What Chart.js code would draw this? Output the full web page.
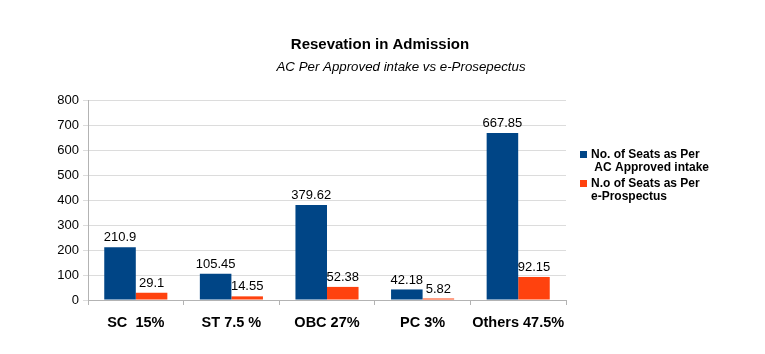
<!DOCTYPE html>
<html>
<head>
<meta charset="utf-8">
<script src="https://cdn.jsdelivr.net/npm/chart.js@4/dist/chart.umd.min.js"></script>
<style>
  html, body { margin: 0; padding: 0; background: #fff; }
  #wrap { width: 765px; height: 354px; }
</style>
</head>
<body>
<div id="wrap"><canvas id="myBarChartSeats" width="765" height="354"></canvas></div>
<script>
// Daten
const categories = ["SC  15%", "ST 7.5 %", "OBC 27%", "PC 3%", "Others 47.5%"];
const seatsApproved = [210.9, 105.45, 379.62, 42.18, 667.85];
const seatsProspectus = [29.1, 14.55, 52.38, 5.82, 92.15];
const seriesNames = [["No. of Seats as Per", " AC Approved intake"], ["N.o of Seats as Per", "e-Prospectus"]];
const yTicks = [0, 100, 200, 300, 400, 500, 600, 700, 800];
const colors = ['#004586', '#ff420e'];

// Titel, Legende und Werte direkt auf die Canvas zeichnen
const textPlugin = {
    id: 'textPlugin',
    afterDatasetsDraw(chart) {
        const ctx = chart.ctx;
        ctx.save();
        ctx.fillStyle = '#000';
        ctx.textAlign = 'center';
        ctx.textBaseline = 'middle';
        ctx.font = 'bold 15px "Liberation Sans", Arial, sans-serif';
        ctx.fillText('Resevation in Admission', 380, 45);
        ctx.font = 'italic 13.3px "Liberation Sans", Arial, sans-serif';
        ctx.fillText('AC Per Approved intake vs e-Prosepectus', 401, 67);

        // Werte über den Balken
        ctx.font = '13px "Liberation Sans", Arial, sans-serif';
        ctx.textBaseline = 'bottom';
        chart.data.datasets.forEach((ds, i) => {
            chart.getDatasetMeta(i).data.forEach((bar, j) => {
                ctx.fillText(String(ds.data[j]), bar.x, bar.y - 3);
            });
        });

        // Legende
        ctx.textAlign = 'left';
        ctx.textBaseline = 'middle';
        ctx.font = 'bold 12px "Liberation Sans", Arial, sans-serif';
        const legendY = [155, 184];
        seriesNames.forEach((lines, i) => {
            ctx.fillStyle = colors[i];
            ctx.fillRect(580, legendY[i] - 4, 7, 7);
            ctx.fillStyle = '#000';
            lines.forEach((line, k) => {
                ctx.fillText(line, 591, legendY[i] + k * 13);
            });
        });
        ctx.restore();
    }
};

const ctx = document.getElementById("myBarChartSeats");
const myBarChartSeats = new Chart(ctx, {
    type: 'bar',
    data: {
        labels: categories,
        datasets: [{
            label: seriesNames[0].join(' '),
            data: seatsApproved,
            backgroundColor: colors[0],
            categoryPercentage: 0.66,
            barPercentage: 1.0
        }, {
            label: seriesNames[1].join(' '),
            data: seatsProspectus,
            backgroundColor: colors[1],
            categoryPercentage: 0.66,
            barPercentage: 1.0
        }]
    },
    options: {
        responsive: false,
        animation: false,
        layout: {
            padding: {top: 100, right: 199, bottom: 0, left: 0}
        },
        scales: {
            x: {
                grid: {
                    display: true,
                    drawOnChartArea: false,
                    offset: true,
                    color: '#b3b3b3',
                    tickLength: 5
                },
                border: {color: '#b3b3b3'},
                ticks: {
                    color: '#000',
                    padding: 9,
                    autoSkip: false,
                    maxRotation: 0,
                    minRotation: 0,
                    font: {family: '"Liberation Sans", Arial, sans-serif', size: 14.5, weight: 'bold'}
                },
                afterFit: (scale) => { scale.height = 54; }
            },
            y: {
                min: 0,
                max: 800,
                afterBuildTicks: (scale) => {
                    scale.ticks = yTicks.map((v) => ({value: v}));
                },
                grid: {color: '#dcdcdc', tickLength: 5},
                border: {color: '#b3b3b3'},
                ticks: {
                    color: '#000',
                    padding: 4,
                    font: {family: '"Liberation Sans", Arial, sans-serif', size: 13}
                },
                afterFit: (scale) => { scale.width = 88; }
            }
        },
        plugins: {
            legend: {display: false},
            title: {display: false},
            tooltip: {enabled: false}
        }
    },
    plugins: [textPlugin]
});
</script>
</body>
</html>
